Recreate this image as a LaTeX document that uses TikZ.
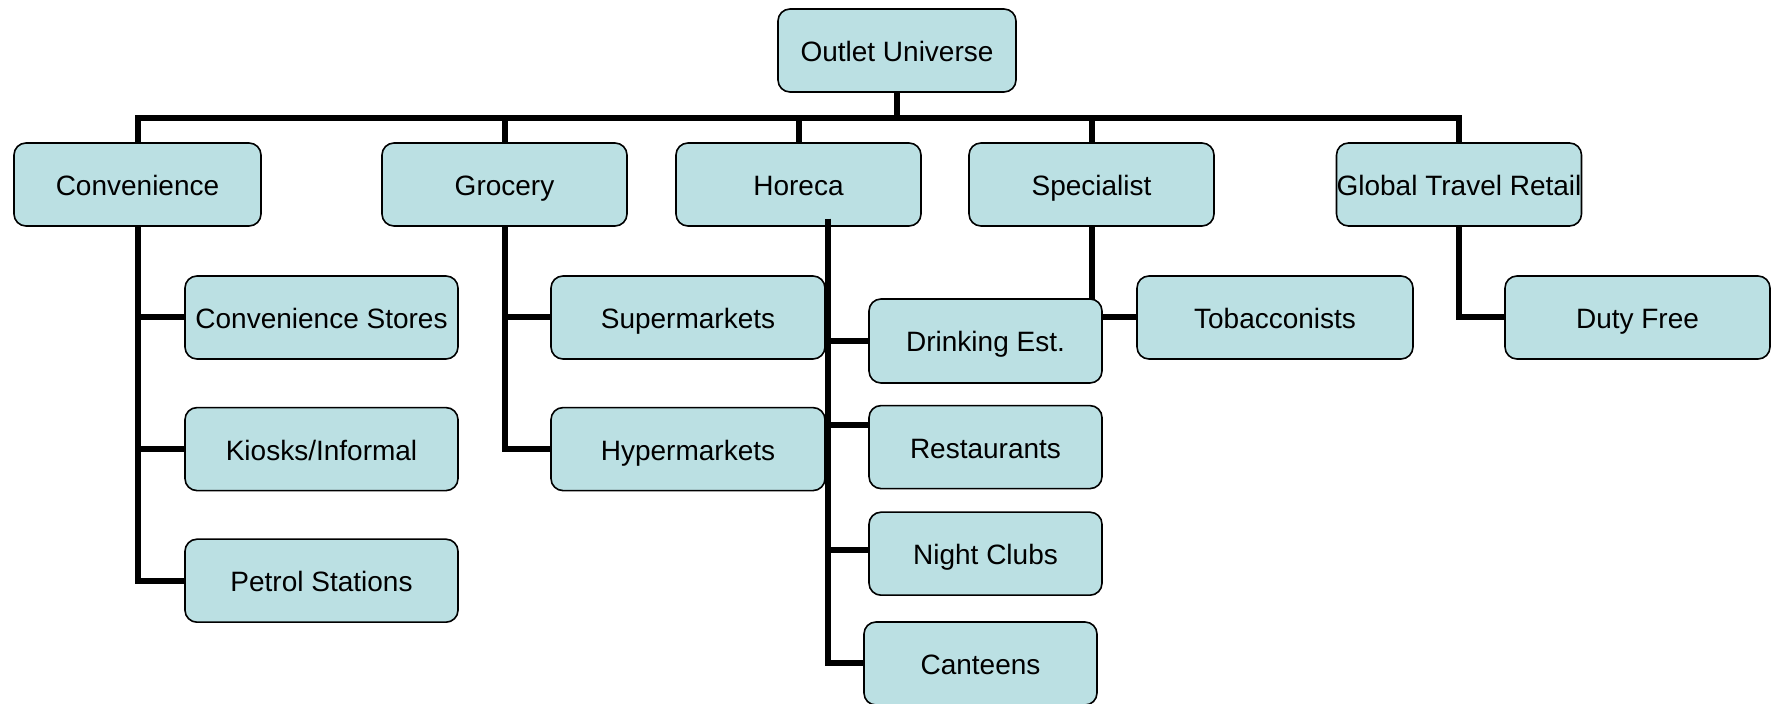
\documentclass[tikz,border=0pt]{standalone}
\usepackage{fontspec}
\setmainfont{Liberation Sans}
\usepackage{tikz}
\usetikzlibrary{calc,backgrounds,positioning}
\definecolor{pale-teal}{RGB}{187,224,227}

\begin{document}
\begin{tikzpicture}[x=0.5pt,y=-0.5pt]

\tikzstyle{channel}=[draw=black,line width=0.8pt,rounded corners=6pt,fill=pale-teal,minimum height=41.5pt,inner sep=0pt,text height=12pt,text depth=1pt,font=\fontsize{14}{16}\selectfont]
\tikzstyle{group}=[channel, minimum width=122.5pt]
\tikzstyle{shop}=[channel, minimum width=136.5pt]
\tikzstyle{venue}=[channel, minimum width=116.5pt]
\tikzstyle{branch}=[line width=3pt]

\useasboundingbox (0,0) rectangle (1771,704);

\node[channel, minimum width=119pt] (outlet) at (897,50.5) {Outlet Universe};

\node[group, minimum width=123.5pt] (conv) at (137.5,184.5) {Convenience};
\node[group] (groc) at (504.5,184.5) {Grocery};
\node[group] (horeca) at (798.5,184.5) {Horeca};
\node[group] (spec) at (1091.5,184.5) {Specialist};
\node[group] (gtr) at (1459,184.5) {Global Travel Retail};

\node[shop] (cstores) at (321.5,317.5) {Convenience Stores};
\node[shop, below=23.5pt of cstores] (kiosks) {Kiosks/Informal};
\node[shop, below=23.5pt of kiosks] (petrol) {Petrol Stations};

\node[shop, minimum width=137pt] (supers) at (688,317.5) {Supermarkets};
\node[shop, minimum width=137pt, below=23.5pt of supers] (hypers) {Hypermarkets};

\node[venue, minimum height=42pt] (drinking) at (985.5,341) {Drinking Est.};
\node[venue, below=10.5pt of drinking] (restaurants) {Restaurants};
\node[venue, below=11pt of restaurants] (clubs) {Night Clubs};
\node[venue] (canteens) at (980.5,663.5) {Canteens};

\node[shop, minimum width=138pt] (tobacc) at (1275,317.5) {Tobacconists};
\node[shop, minimum width=132.5pt] (dutyfree) at (1637.5,317.5) {Duty Free};

\begin{scope}[on background layer]
\coordinate (busR) at (1459,118);
\draw[branch] (conv) |- (busR) -- (gtr);
\draw[branch] (outlet) -- (outlet |- busR);
\foreach \g in {groc,horeca,spec}
  \draw[branch] (\g) -- (\g |- busR);

\draw[branch] (conv) |- (cstores.west);
\draw[branch] (conv) |- (kiosks.west);
\draw[branch] (conv) |- (petrol.west);

\draw[branch] (groc) |- (supers.west);
\draw[branch] (groc) |- (hypers.west);

\draw[branch] (spec) |- (tobacc.west);
\draw[branch] (gtr) |- (dutyfree.west);
\end{scope}

% horeca trunk sits over the boxes
\coordinate (htop) at ($(horeca.south)+(29.5,-8)$);
\draw[branch] (htop) |- (canteens.west);
\draw[branch] (htop) |- (drinking.west);
\draw[branch] (htop) |- ([yshift=11.25pt]restaurants.west);
\draw[branch] (htop) |- ([yshift=1.75pt]clubs.west);

\end{tikzpicture}
\end{document}
